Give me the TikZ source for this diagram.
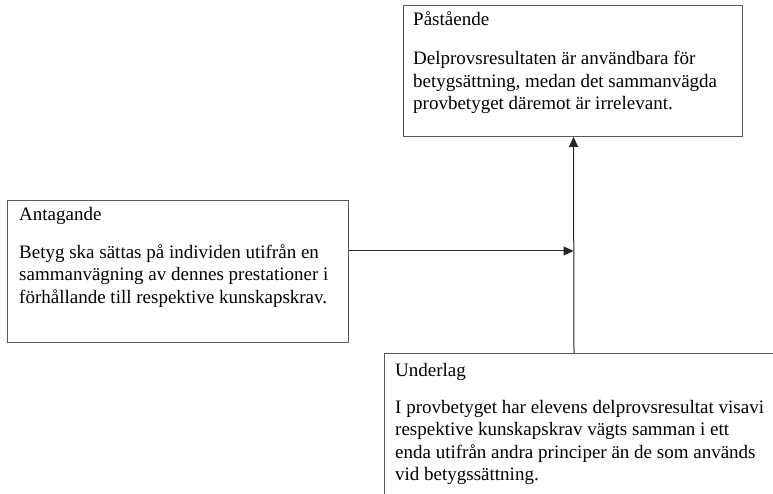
\documentclass[tikz,border=0pt]{standalone}
\usepackage{fontspec}
\setmainfont{Liberation Serif}
\usetikzlibrary{arrows.meta}
\begin{document}
\begin{tikzpicture}[x=1pt,y=-1pt,
  box/.style={draw=black!65,line width=0.9pt,inner sep=0pt,anchor=north west},
  label/.style={anchor=base west,inner sep=0pt,align=left,
    font=\fontsize{19}{22.5}\selectfont},
  link/.style={draw=black!85,line width=1pt,
    -{Triangle[length=10pt,width=9pt]}}]
\useasboundingbox (0,0) rectangle (773,494);
\clip (0,0) rectangle (773,494);

% Claim (top right); multi-line labels sit on the baseline of their last line
\node[box,minimum width=339pt,minimum height=131pt] (claim) at (403,5) {};
\node[label] (claimhead) at (413,26) {Påstående};
\node[label] (claimtext) at (413,110) {Delprovsresultaten är användbara för\\
  betygsättning, medan det sammanvägda\\
  provbetyget däremot är irrelevant.};

% Warrant (left)
\node[box,minimum width=341pt,minimum height=142pt] (warrant) at (7,200) {};
\node[label] (warranthead) at (19,221) {Antagande};
\node[label] (warranttext) at (19,303) {Betyg ska sättas på individen utifrån en\\
  sammanvägning av dennes prestationer i\\
  förhållande till respektive kunskapskrav.};

% Grounds (bottom right, running past the page edge)
\node[box,minimum width=420pt,minimum height=170pt] (grounds) at (384,353) {};
\node[label] (groundshead) at (395,376) {Underlag};
\node[label] (groundstext) at (395,480.5) {I provbetyget har elevens delprovsresultat visavi\\
  respektive kunskapskrav vägts samman i ett\\
  enda utifrån andra principer än de som används\\
  vid betygssättning.};

% Connectors
\coordinate (join) at (573.5,251);
\draw[link] (grounds.north west -| 574,0) -- (claim.south west -| 573.5,0);
\draw[link] (warrant.east |- join) -- (join);
\end{tikzpicture}
\end{document}
